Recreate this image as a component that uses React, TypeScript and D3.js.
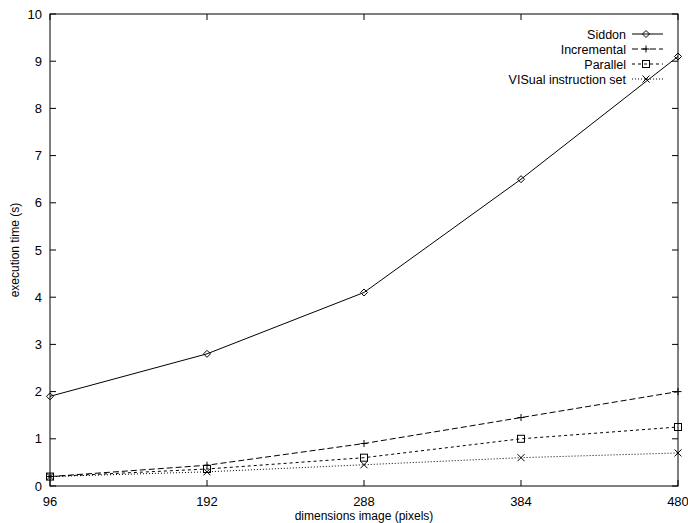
import React, { useEffect, useRef } from "react";
import * as d3 from "d3";

const dims = [96, 192, 288, 384, 480];
const siddon = [1.9, 2.8, 4.1, 6.5, 9.1];
const incremental = [0.2, 0.44, 0.9, 1.45, 2.0];
const parallel = [0.2, 0.36, 0.6, 1.0, 1.25];
const visual = [0.2, 0.3, 0.45, 0.6, 0.7];
const yTicks = [0, 1, 2, 3, 4, 5, 6, 7, 8, 9, 10];

const series = [
  { name: "Siddon", values: siddon, dash: "none", marker: "diamond" },
  { name: "Incremental", values: incremental, dash: "6,3", marker: "plus" },
  { name: "Parallel", values: parallel, dash: "3,3", marker: "square" },
  { name: "VISual instruction set", values: visual, dash: "1,2", marker: "cross" },
];

const W = 688;
const H = 523;
const margin = { top: 14, right: 10, bottom: 37, left: 50 };

function drawMarker(g: any, kind: string, x: number, y: number) {
  const s = 3.5;
  if (kind === "diamond") {
    g.append("path")
      .attr("d", `M${x},${y - s}L${x + s},${y}L${x},${y + s}L${x - s},${y}Z`)
      .attr("fill", "none").attr("stroke", "#000");
  } else if (kind === "plus") {
    g.append("path")
      .attr("d", `M${x - s},${y}H${x + s}M${x},${y - s}V${y + s}`)
      .attr("stroke", "#000");
  } else if (kind === "square") {
    g.append("rect")
      .attr("x", x - s).attr("y", y - s).attr("width", 2 * s).attr("height", 2 * s)
      .attr("fill", "none").attr("stroke", "#000");
  } else {
    g.append("path")
      .attr("d", `M${x - s},${y - s}L${x + s},${y + s}M${x - s},${y + s}L${x + s},${y - s}`)
      .attr("stroke", "#000");
  }
}

function draw(node: SVGSVGElement) {
  const svg = d3.select(node);
  svg.selectAll("*").remove();
  const width = W - margin.left - margin.right;
  const height = H - margin.top - margin.bottom;
  const x = d3.scaleLinear().domain([96, 480]).range([margin.left, margin.left + width]);
  const y = d3.scaleLinear().domain([0, 10]).range([margin.top + height, margin.top]);
  const font = "Liberation Sans, Arial, Helvetica, sans-serif";

  const g = svg.append("g");

  // frame
  g.append("rect")
    .attr("x", x(96)).attr("y", y(10))
    .attr("width", x(480) - x(96)).attr("height", y(0) - y(10))
    .attr("fill", "none").attr("stroke", "#000").attr("stroke-width", 1);

  const tl = 6;
  yTicks.forEach((t) => {
    g.append("line").attr("x1", x(96)).attr("x2", x(96) + tl)
      .attr("y1", y(t)).attr("y2", y(t)).attr("stroke", "#000");
    g.append("line").attr("x1", x(480)).attr("x2", x(480) - tl)
      .attr("y1", y(t)).attr("y2", y(t)).attr("stroke", "#000");
    g.append("text").attr("x", x(96) - 8).attr("y", y(t) + 4.5)
      .attr("text-anchor", "end").attr("font-family", font).attr("font-size", 13)
      .text(t);
  });
  dims.forEach((d) => {
    g.append("line").attr("x1", x(d)).attr("x2", x(d))
      .attr("y1", y(0)).attr("y2", y(0) - tl).attr("stroke", "#000");
    g.append("line").attr("x1", x(d)).attr("x2", x(d))
      .attr("y1", y(10)).attr("y2", y(10) + tl).attr("stroke", "#000");
    g.append("text").attr("x", x(d)).attr("y", y(0) + 20)
      .attr("text-anchor", "middle").attr("font-family", font).attr("font-size", 13)
      .text(d);
  });

  g.append("text").attr("x", (x(96) + x(480)) / 2).attr("y", H - 3)
    .attr("text-anchor", "middle").attr("font-family", font).attr("font-size", 12)
    .text("dimensions image (pixels)");
  g.append("text")
    .attr("transform", `translate(19,${(y(0) + y(10)) / 2}) rotate(-90)`)
    .attr("text-anchor", "middle").attr("font-family", font).attr("font-size", 12)
    .text("execution time (s)");

  const line = d3.line<number>().x((_, i) => x(dims[i])).y((v) => y(v));

  series.forEach((s, k) => {
    g.append("path").attr("d", line(s.values))
      .attr("fill", "none").attr("stroke", "#000").attr("stroke-width", 1)
      .attr("stroke-dasharray", s.dash);
    s.values.forEach((v, i) => drawMarker(g, s.marker, x(dims[i]), y(v)));

    const ly = 34 + k * 15;
    g.append("text").attr("x", 626).attr("y", ly + 4.5)
      .attr("text-anchor", "end").attr("font-family", font).attr("font-size", 12.5)
      .text(s.name);
    g.append("line").attr("x1", 632).attr("x2", 663).attr("y1", ly).attr("y2", ly)
      .attr("stroke", "#000").attr("stroke-dasharray", s.dash);
    drawMarker(g, s.marker, 646, ly);
  });
}

export default function App() {
  const ref = useRef<SVGSVGElement>(null);
  useEffect(() => {
    if (ref.current) draw(ref.current);
  }, []);
  return (
    <svg ref={ref} width={W} height={H}
      style={{ position: "absolute", left: 0, top: 0, background: "#fff" }} />
  );
}
